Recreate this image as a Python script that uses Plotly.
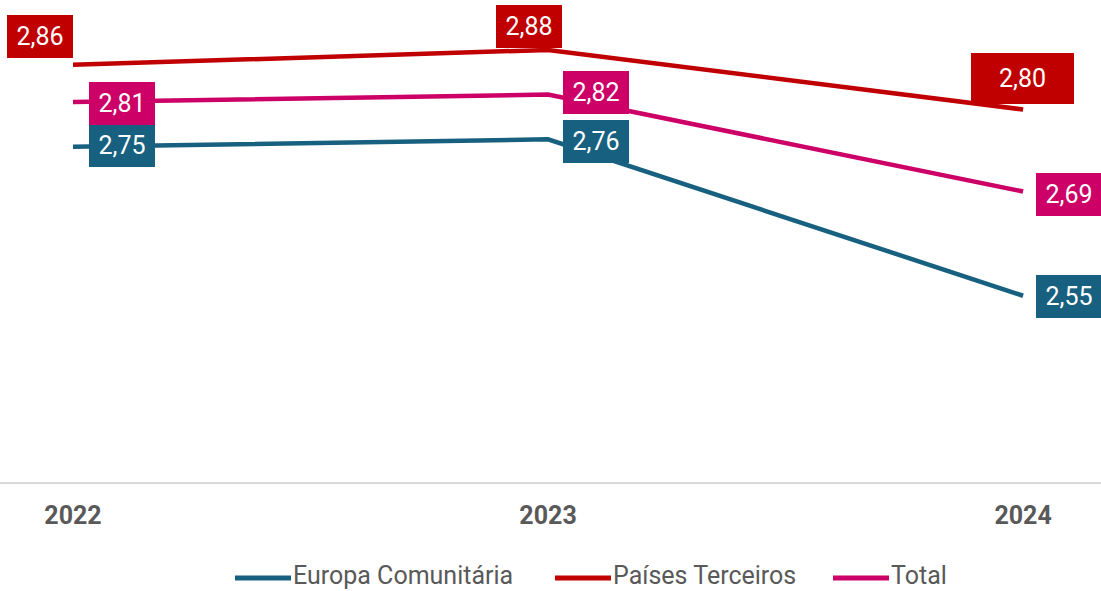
import plotly.graph_objects as go

# Categories and series values
years = ["2022", "2023", "2024"]
europa = [2.75, 2.76, 2.55]
paises = [2.86, 2.88, 2.80]
total = [2.81, 2.82, 2.69]

series_names = ["Europa Comunitária", "Países Terceiros", "Total"]
colors = ["#17607F", "#C00000", "#CC0066"]

W, H = 1101, 591
PLOT_BOTTOM = 482  # px from top where the plot area ends

fig = go.Figure()
data = [europa, paises, total]
for name, vals, col in zip(series_names, data, colors):
    fig.add_trace(go.Scatter(
        x=years, y=vals, mode="lines", name=name,
        line=dict(color=col, width=4.5),
        showlegend=False, cliponaxis=False,
    ))

def fmt(v):
    return f"{v:.2f}".replace(".", ",")

# label offsets (xshift, yshift, width, height) per series per year
offsets = {
    "Europa Comunitária": [(49, 1, 58, 35), (48, -2, 58, 35), (46, -1, 58, 35)],
    "Países Terceiros": [(-33, 28, 58, 35), (-19, 23, 58, 35), (-1, 31, 95, 43)],
    "Total": [(49, -1, 58, 35), (48, 2, 58, 35), (46, -3, 58, 35)],
}

for name, vals, col in zip(series_names, data, colors):
    for i, v in enumerate(vals):
        xs, ys, w, h = offsets[name][i]
        fig.add_annotation(
            x=i, y=v, xref="x", yref="y", text=fmt(v),
            showarrow=False, xanchor="center", yanchor="middle",
            xshift=xs, yshift=ys, width=w, height=h,
            bgcolor=col, borderpad=4, borderwidth=0,
            font=dict(family="Roboto", size=25, color="white"),
        )

# Legend drawn as short line swatches with text
legend_items = [(235, series_names[0]), (555, series_names[1]), (833, series_names[2])]
swatch_y = (PLOT_BOTTOM - 578) / PLOT_BOTTOM
text_y = (PLOT_BOTTOM - 575.5) / PLOT_BOTTOM
for (px, name), col in zip(legend_items, colors):
    fig.add_shape(
        type="line", xref="paper", yref="paper",
        x0=px / W, x1=(px + 56) / W, y0=swatch_y, y1=swatch_y,
        line=dict(color=col, width=5),
    )
    fig.add_annotation(
        x=(px + 57) / W, y=text_y, xref="paper", yref="paper",
        text=name, showarrow=False, xanchor="left", yanchor="middle",
        borderpad=0,
        font=dict(family="Roboto", size=25, color="#595959"),
    )

fig.update_layout(
    width=W, height=H,
    margin=dict(l=0, r=0, t=0, b=H - PLOT_BOTTOM),
    plot_bgcolor="white", paper_bgcolor="white",
    showlegend=False,
    xaxis=dict(
        type="category", range=[-0.1537, 2.164],
        showgrid=False, zeroline=False,
        showline=True, linecolor="#D9D9D9", linewidth=1.5,
        ticks="outside", ticklen=10, tickcolor="rgba(0,0,0,0)",
        tickfont=dict(family="Roboto", size=25, color="#595959", weight="bold"),
    ),
    yaxis=dict(
        range=[2.3, 2.947], visible=False, showgrid=False, zeroline=False,
    ),
)

fig.write_html("out.html")
